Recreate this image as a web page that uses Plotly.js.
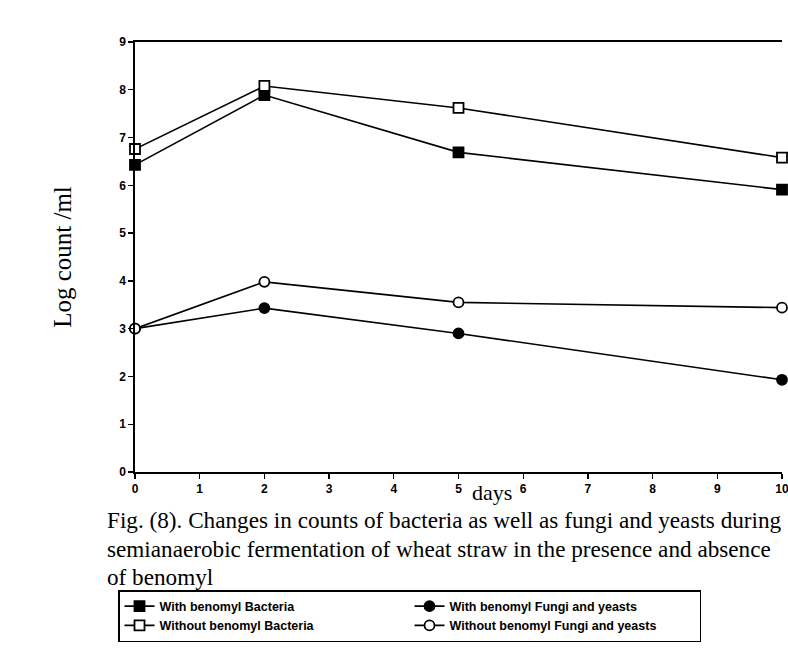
<!DOCTYPE html>
<html>
<head>
<meta charset="utf-8">
<script src="https://cdn.plot.ly/plotly-3.0.1.min.js"></script>
<style>html,body{margin:0;padding:0;background:#fff;}#chart{width:788px;height:668px;}</style>
</head>
<body>
<div id="chart"></div>
<script>
// Data
const days = [0, 2, 5, 10];
const withBenomylBacteria = [6.43, 7.89, 6.69, 5.91];
const withoutBenomylBacteria = [6.76, 8.08, 7.62, 6.58];
const withBenomylFungi = [3.0, 3.43, 2.9, 1.93];
const withoutBenomylFungi = [3.0, 3.98, 3.55, 3.44];
const xTicks = [0, 1, 2, 3, 4, 5, 6, 7, 8, 9, 10];
const yTicks = [0, 1, 2, 3, 4, 5, 6, 7, 8, 9];
const seriesNames = [
  'With benomyl Bacteria',
  'With benomyl Fungi and yeasts',
  'Without benomyl Bacteria',
  'Without benomyl Fungi and yeasts'
];
const captionLines = [
  'Fig. (8). Changes in counts of bacteria as well as fungi and yeasts during',
  'semianaerobic fermentation of wheat straw in the presence and absence',
  'of benomyl'
];

function tr(name, y, symbol, filled) {
  return {
    x: days, y: y, name: name, type: 'scatter', mode: 'lines+markers',
    line: {color: '#000', width: 1.6},
    marker: {symbol: symbol, size: 10,
             color: filled ? '#000' : '#fff',
             line: {color: '#000', width: 1.8}},
    cliponaxis: false
  };
}

const data = [
  tr(seriesNames[0], withBenomylBacteria, 'square', true),
  tr(seriesNames[1], withBenomylFungi, 'circle', true),
  tr(seriesNames[2], withoutBenomylBacteria, 'square', false),
  tr(seriesNames[3], withoutBenomylFungi, 'circle', false)
];

const tickFont = {family: 'Liberation Sans, Arial, sans-serif', size: 12, color: '#000', weight: 'bold'};
const serif = 'Liberation Serif, Times New Roman, serif';
const px = v => (v - 135) / 647;
const py = v => (472 - v) / 430;

const layout = {
  width: 788, height: 668,
  margin: {l: 135, r: 6, t: 42, b: 196},
  paper_bgcolor: '#fff', plot_bgcolor: '#fff',
  showlegend: true,
  xaxis: {
    range: [0, 10], tickvals: xTicks, ticktext: xTicks.map(String),
    showgrid: false, zeroline: false, showline: true, mirror: true,
    linecolor: '#000', linewidth: 1.6, ticks: 'outside', ticklen: 5,
    tickcolor: '#000', tickwidth: 1.4, tickfont: tickFont,
    ticklabeloverflow: 'allow'
  },
  yaxis: {
    range: [0, 9], tickvals: yTicks, ticktext: yTicks.map(String),
    showgrid: false, zeroline: false, showline: true,
    linecolor: '#000', linewidth: 1.6, ticks: 'outside', ticklen: 5,
    tickcolor: '#000', tickwidth: 1.4, tickfont: tickFont,
    title: {text: 'Log count /ml', font: {family: serif, size: 25, color: '#000'}, standoff: 40}
  },
  legend: {
    orientation: 'h', x: px(118), y: py(590), xanchor: 'left', yanchor: 'top',
    entrywidth: 245, entrywidthmode: 'pixels',
    bgcolor: '#fff', bordercolor: '#000', borderwidth: 1.5,
    font: {family: 'Liberation Sans, Arial, sans-serif', size: 12.5, color: '#000', weight: 'bold'},
    itemwidth: 30, tracegroupgap: 0
  },
  annotations: [
    {text: 'days', xref: 'paper', yref: 'paper', x: px(492), y: py(492),
     xanchor: 'center', yanchor: 'middle', showarrow: false,
     font: {family: serif, size: 22, color: '#000'}},
    {text: captionLines[0], xref: 'paper', yref: 'paper', x: px(105), y: py(520),
     xanchor: 'left', yanchor: 'middle', showarrow: false, align: 'left',
     font: {family: serif, size: 23.2, color: '#000'}},
    {text: captionLines[1], xref: 'paper', yref: 'paper', x: px(105), y: py(549),
     xanchor: 'left', yanchor: 'middle', showarrow: false, align: 'left',
     font: {family: serif, size: 23.2, color: '#000'}},
    {text: captionLines[2], xref: 'paper', yref: 'paper', x: px(105), y: py(577),
     xanchor: 'left', yanchor: 'middle', showarrow: false, align: 'left',
     font: {family: serif, size: 23.2, color: '#000'}}
  ]
};

Plotly.newPlot('chart', data, layout, {displayModeBar: false, staticPlot: true});
</script>
</body>
</html>
